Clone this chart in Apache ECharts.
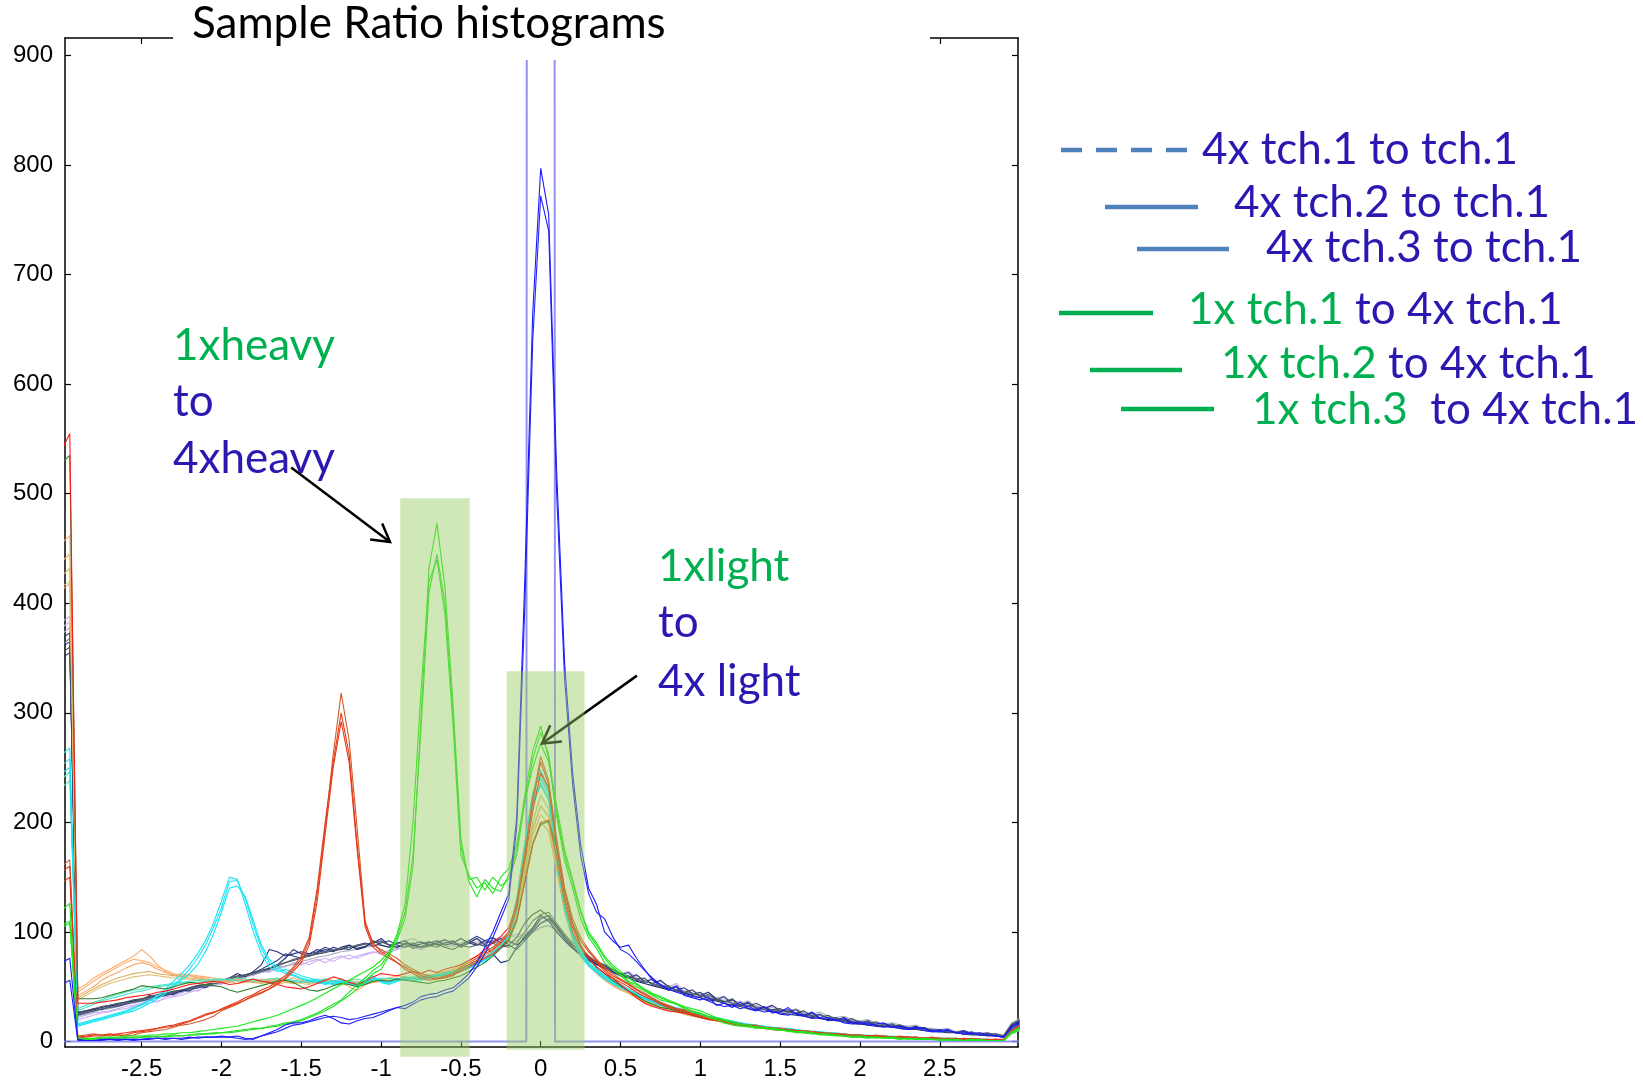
<!DOCTYPE html>
<html>
<head>
<meta charset="utf-8">
<title>Sample Ratio histograms</title>
<script src="https://cdn.jsdelivr.net/npm/echarts@6/dist/echarts.min.js"></script>
<style>
  html, body { margin: 0; padding: 0; background: #fff; }
  #chart { width: 1643px; height: 1081px; }
</style>
</head>
<body>
<div id="chart"></div>
<script>
// Bin centres of the log-ratio histograms: every 0.05 from -3 to 3
const binCenters = Array.from({ length: 121 }, (_, i) => Math.round((-3 + i * 0.05) * 100) / 100);

// Axis ticks
const xTicks = [-2.5, -2, -1.5, -1, -0.5, 0, 0.5, 1, 1.5, 2, 2.5];
const yTicks = [0, 100, 200, 300, 400, 500, 600, 700, 800, 900];

// 4x tch.1 against itself: every ratio lands in the zero bin
const selfBins = [-3, -0.09, 0, 0.09, 3];
const selfCounts = [0, 0, 30000, 0, 0];

// Counts per bin, 121 values each (rows of ten bins)
const blueA = [
  72,76,2,1,1,2,2,1,2,2,
  2,3,3,2,3,3,4,3,4,4,
  4,4,5,3,2,5,8,11,15,17,
  17,19,22,24,21,17,16,19,21,22,
  25,28,31,33,36,41,43,44,47,49,
  55,62,72,86,100,118,135,205,420,665,
  797,755,520,345,245,180,140,125,100,92,
  86,88,76,66,56,52,47,50,42,40,
  38,41,33,35,31,36,30,28,32,26,
  27,31,25,24,27,21,22,19,21,17,
  18,15,16,17,13,14,12,13,12,10,
  10,11,8,9,7,8,6,5,4,14,
  18];
const blueB = [
  52,56,1,1,1,1,2,2,2,1,
  2,2,3,3,3,2,3,4,4,4,
  5,4,3,2,3,5,7,9,12,15,
  16,18,20,22,23,22,20,21,23,25,
  27,29,31,30,34,38,40,41,44,46,
  52,58,68,80,95,112,130,195,395,640,
  772,740,500,330,235,170,135,118,112,96,
  84,80,73,65,58,52,48,45,43,41,
  40,37,34,32,33,30,32,29,27,28,
  25,24,26,23,21,22,19,20,17,16,
  16,17,14,13,14,12,11,12,10,9,
  9,10,8,7,8,6,6,5,4,12,
  16];
const green1 = [
  120,126,3,2,2,3,3,3,4,3,
  4,4,5,4,5,5,6,6,7,7,
  8,8,9,10,11,12,13,14,16,17,
  19,22,25,28,32,37,42,48,55,62,
  66,78,92,112,160,295,432,473,415,310,
  185,146,132,148,140,137,152,175,225,265,
  288,258,205,165,140,112,95,85,72,66,
  60,54,50,46,42,38,36,34,30,27,
  25,22,20,17,15,14,14,12,13,11,
  11,10,9,9,8,7,7,6,5,5,
  5,4,4,3,4,3,3,2,3,2,
  2,2,2,1,2,1,1,1,1,8,
  12];
const green2 = [
  106,110,2,2,3,2,3,3,3,4,
  4,5,4,5,6,5,6,7,7,8,
  8,9,10,11,12,12,14,15,17,18,
  20,23,26,30,34,38,45,52,58,65,
  70,80,95,118,170,285,410,445,400,300,
  178,148,150,138,150,142,148,170,218,258,
  282,262,210,170,145,118,98,88,76,68,
  62,55,52,47,43,40,37,34,31,28,
  26,23,21,19,17,15,13,14,12,11,
  10,10,8,8,7,7,6,6,5,4,
  4,4,3,4,3,3,2,3,2,2,
  2,1,2,1,1,2,1,1,1,7,
  10];
const green3 = [
  104,108,3,3,3,4,4,4,5,5,
  5,6,6,7,7,8,8,9,10,11,
  12,13,14,16,18,20,22,24,27,30,
  33,36,40,44,48,52,56,60,64,68,
  74,82,98,125,200,320,420,440,390,290,
  170,152,140,145,135,150,158,180,220,250,
  272,255,215,175,148,120,100,90,78,70,
  64,58,53,48,44,41,38,35,32,30,
  28,25,22,20,18,16,15,13,12,12,
  11,9,9,8,8,6,6,5,5,4,
  4,3,4,3,3,2,3,2,2,2,
  1,2,1,1,2,1,1,1,1,9,
  13];
const redOrange1 = [
  160,166,5,6,7,6,5,6,5,6,
  8,9,10,11,13,15,16,18,20,23,
  28,31,34,38,42,45,48,52,58,66,
  75,92,135,195,262,318,275,195,110,88,
  84,80,76,70,66,62,60,58,60,62,
  68,72,76,82,86,92,100,128,172,222,
  260,238,185,140,112,95,84,75,68,62,
  57,53,48,44,40,36,33,30,29,26,
  24,22,21,19,18,16,15,15,13,12,
  12,11,10,10,9,8,8,7,7,6,
  6,5,6,5,4,5,4,4,3,4,
  3,3,3,2,3,2,2,2,2,11,
  15];
const redOrange2 = [
  155,160,4,5,6,6,7,6,6,8,
  9,10,12,13,14,16,18,21,24,26,
  30,33,36,40,43,47,50,55,60,68,
  78,95,140,200,255,300,262,180,108,90,
  82,78,72,68,64,60,58,57,58,60,
  66,70,74,80,84,90,98,122,168,218,
  255,235,180,138,108,92,82,74,66,60,
  56,52,47,43,39,35,32,30,28,25,
  23,21,20,18,17,16,14,14,12,12,
  11,10,10,9,8,8,7,7,6,6,
  5,5,5,4,4,4,4,3,3,3,
  3,2,3,2,2,2,2,1,2,10,
  14];
const redOrange3 = [
  145,150,3,4,5,5,6,7,8,9,
  10,11,12,14,15,17,19,22,25,27,
  29,32,35,38,41,44,48,53,57,64,
  72,88,128,190,250,292,255,175,105,86,
  80,76,72,66,62,58,56,57,59,61,
  64,68,72,76,80,86,94,112,145,180,
  200,202,168,128,100,86,78,72,64,58,
  54,50,45,41,38,34,31,29,27,24,
  22,20,19,18,16,15,14,13,12,11,
  10,10,9,8,8,7,7,6,6,5,
  5,5,4,4,4,3,4,3,3,3,
  2,3,2,2,2,2,1,2,1,9,
  13];
const red1 = [
  540,555,35,35,35,36,37,38,40,41,
  42,43,45,46,48,50,52,53,54,55,
  54,52,53,55,57,55,54,52,50,49,
  48,50,53,56,59,57,54,52,55,59,
  62,61,60,62,64,62,65,63,66,68,
  70,74,78,84,90,96,104,125,165,210,
  245,232,178,132,104,88,76,68,62,58,
  52,46,40,35,32,30,28,27,26,24,
  22,21,20,18,17,15,14,14,13,12,
  11,11,10,9,9,8,7,7,6,6,
  6,5,5,5,4,4,3,4,3,3,
  3,2,2,3,2,2,1,2,1,10,
  14];
const cyan1 = [
  262,268,15,17,19,21,23,25,27,30,
  34,38,42,48,55,62,70,80,92,108,
  128,150,148,125,100,80,68,64,66,63,
  60,58,56,54,53,55,52,50,56,60,
  54,52,55,57,56,58,60,59,62,64,
  66,70,74,72,80,86,98,130,180,225,
  248,230,170,125,98,82,72,66,60,56,
  52,48,44,41,38,35,33,31,29,27,
  25,23,22,20,19,17,16,15,14,13,
  12,12,11,10,9,9,8,8,7,6,
  6,6,5,5,5,4,4,4,3,3,
  3,3,3,2,2,2,2,1,1,11,
  15];
const cyan2 = [
  252,258,16,18,20,22,24,26,28,31,
  33,37,41,46,52,58,66,76,88,104,
  122,146,147,130,106,85,72,66,62,60,
  57,55,54,52,55,57,54,52,53,57,
  56,54,57,58,55,57,59,61,60,63,
  65,68,72,76,82,88,96,125,175,220,
  240,226,168,122,96,80,70,64,58,54,
  50,47,43,40,37,34,32,30,28,26,
  24,22,21,19,18,17,15,14,14,12,
  12,11,10,10,9,8,8,7,7,6,
  6,5,5,5,4,4,4,3,3,3,
  3,2,2,2,2,2,1,1,1,10,
  14];
const cyan3 = [
  245,250,14,16,18,20,22,24,26,28,
  31,35,39,44,50,56,62,70,82,98,
  118,140,142,132,110,88,75,68,64,61,
  58,56,55,53,52,54,53,51,54,58,
  55,53,56,57,58,56,58,60,61,62,
  64,67,70,75,80,86,94,120,170,215,
  236,222,165,120,94,78,69,63,57,53,
  49,46,42,39,36,33,31,29,27,25,
  23,22,20,19,17,16,15,14,13,12,
  11,11,10,9,9,8,7,7,6,6,
  5,5,5,4,4,4,3,3,3,3,
  2,2,2,2,2,1,1,1,1,9,
  13];
const orange1 = [
  455,462,48,52,58,62,66,70,74,78,
  84,78,70,64,60,62,61,60,59,58,
  57,56,58,57,55,56,57,55,56,58,
  56,54,55,57,56,54,50,46,52,55,
  56,58,60,59,57,58,60,62,64,66,
  70,74,78,82,86,92,100,122,160,195,
  215,205,165,124,98,82,72,65,58,54,
  50,46,42,38,35,33,31,29,27,25,
  23,21,20,18,17,16,15,14,13,12,
  11,10,10,9,8,8,7,7,6,6,
  5,5,5,4,4,4,3,3,3,3,
  3,2,2,2,2,2,1,1,1,9,
  12];
const orange2 = [
  438,445,45,50,55,60,64,68,72,75,
  74,72,68,65,62,60,61,59,58,56,
  55,57,56,54,55,57,55,54,56,55,
  54,56,54,55,53,55,56,54,53,56,
  55,57,58,56,58,60,61,60,63,65,
  68,72,76,80,84,90,98,118,155,188,
  207,198,160,120,95,80,70,63,57,52,
  48,45,41,37,34,32,30,28,26,24,
  22,21,19,18,16,15,14,13,12,11,
  11,10,9,9,8,7,7,6,6,5,
  5,5,4,4,4,3,3,3,3,2,
  2,2,2,2,2,1,1,1,1,8,
  11];
const orange3 = [
  412,418,42,46,50,56,60,63,67,70,
  72,70,66,63,61,59,60,58,57,56,
  56,55,57,56,54,55,56,57,55,54,
  55,53,55,56,55,53,54,55,52,54,
  55,56,57,58,57,59,60,61,62,64,
  67,70,74,78,83,88,96,114,150,182,
  200,192,156,118,93,78,69,62,56,51,
  47,44,40,36,33,31,29,27,25,23,
  22,20,19,17,16,15,14,13,12,11,
  10,10,9,8,8,7,7,6,6,5,
  5,4,4,4,3,3,3,3,2,2,
  2,2,2,1,1,1,1,1,1,8,
  11];
const tan1 = [
  425,432,40,44,48,52,55,58,60,62,
  63,64,62,61,60,59,58,57,56,55,
  55,54,56,55,54,53,55,56,54,53,
  54,55,53,54,56,55,53,52,54,55,
  56,55,57,56,58,57,59,60,62,63,
  66,69,73,77,82,88,96,120,160,200,
  225,212,168,126,98,82,72,64,58,53,
  49,45,41,38,35,32,30,28,26,24,
  22,21,19,18,17,15,14,13,12,12,
  11,10,9,9,8,7,7,6,6,5,
  5,5,4,4,4,3,3,3,3,2,
  2,2,2,2,1,1,1,1,1,8,
  11];
const tan2 = [
  415,420,38,42,46,50,53,55,57,59,
  60,61,60,59,58,57,57,56,55,54,
  54,55,53,54,55,54,53,52,54,55,
  53,52,54,55,53,52,54,55,53,54,
  55,56,55,57,58,59,58,60,61,62,
  65,68,72,76,81,86,94,116,155,192,
  215,205,164,124,96,80,70,63,57,52,
  48,44,40,37,34,31,29,27,25,23,
  22,20,19,17,16,15,14,13,12,11,
  10,10,9,8,8,7,6,6,5,5,
  5,4,4,4,3,3,3,3,2,2,
  2,2,1,1,1,1,1,1,1,8,
  11];
const aqua1 = [
  240,246,30,33,36,38,41,43,45,47,
  48,50,51,52,53,54,55,56,56,57,
  57,56,58,57,55,56,57,58,56,55,
  54,56,57,55,54,56,55,53,55,57,
  58,57,56,58,59,58,60,61,62,64,
  66,69,72,75,80,88,98,130,182,228,
  244,228,172,126,99,83,73,66,60,55,
  51,47,43,40,37,34,32,30,28,26,
  24,22,21,19,18,16,15,14,13,13,
  12,11,10,10,9,8,8,7,6,6,
  6,5,5,4,4,4,3,3,3,3,
  2,2,2,2,2,1,1,1,1,9,
  13];
const aqua2 = [
  232,238,28,31,34,37,39,41,43,45,
  46,48,50,51,52,53,54,54,55,56,
  56,57,55,56,57,55,54,56,57,56,
  55,54,56,57,55,54,56,57,55,56,
  57,58,57,59,58,60,59,61,63,64,
  66,68,71,74,79,86,95,124,175,218,
  234,220,168,124,97,81,72,65,59,54,
  50,46,43,39,36,34,32,30,28,26,
  24,22,21,19,18,17,15,14,13,12,
  12,11,10,9,9,8,7,7,6,6,
  5,5,5,4,4,4,3,3,3,2,
  2,2,2,2,1,1,1,1,1,8,
  12];
const darkGreen1 = [
  528,535,39,39,39,40,42,44,46,48,
  51,50,49,48,50,52,54,53,52,51,
  50,47,45,47,49,51,53,55,56,54,
  50,47,46,48,51,53,52,50,52,55,
  56,55,57,56,55,54,53,55,56,58,
  60,64,68,72,78,85,92,110,145,180,
  198,201,178,138,108,88,76,68,62,56,
  51,46,42,37,34,31,30,28,26,24,
  22,21,20,18,17,16,15,14,13,12,
  12,11,10,9,9,8,7,7,6,6,
  5,5,5,4,4,4,3,3,3,3,
  2,2,2,2,2,1,1,1,1,9,
  13];
const navy1 = [
  368,373,26,28,30,29,32,34,36,37,
  38,42,40,44,43,47,46,51,49,54,
  55,58,62,59,64,70,84,82,78,80,
  82,80,84,82,86,84,88,85,87,90,
  94,88,86,90,88,86,90,92,88,90,
  94,90,88,92,95,90,92,88,94,102,
  112,115,106,96,88,82,76,72,70,66,
  62,58,61,55,53,56,50,47,49,44,
  42,45,39,36,38,33,35,31,30,33,
  28,27,29,24,23,25,21,20,22,18,
  17,19,15,14,16,13,12,14,11,10,
  11,9,8,10,7,7,8,6,5,15,
  19];
const navy2 = [
  360,365,24,26,28,30,31,32,34,36,
  37,39,41,42,44,46,49,51,52,53,
  56,57,59,61,63,66,70,74,80,78,
  76,80,82,86,83,85,84,88,90,87,
  90,92,88,86,89,91,88,90,93,89,
  88,92,96,92,90,94,88,84,92,100,
  108,112,104,94,86,80,75,71,68,64,
  61,63,56,54,57,50,48,51,44,43,
  45,39,38,41,34,33,36,30,31,28,
  27,29,25,24,26,21,20,22,19,17,
  16,18,15,14,13,15,12,11,12,10,
  9,10,8,7,9,6,6,7,5,14,
  18];
const navy3 = [
  350,355,25,27,29,31,33,33,35,37,
  39,40,41,43,45,46,48,49,51,53,
  54,56,58,60,62,64,66,70,76,84,
  80,78,81,84,82,86,88,84,86,92,
  88,86,90,92,87,89,91,88,90,92,
  86,90,94,88,80,72,74,86,96,104,
  115,110,100,92,85,79,74,70,67,63,
  60,58,55,53,51,49,47,46,44,42,
  40,38,37,35,33,32,30,29,29,27,
  26,25,24,23,22,21,20,19,18,17,
  16,15,14,14,13,12,11,11,10,9,
  9,8,8,7,6,6,5,5,4,13,
  17];
const lavender1 = [
  383,388,22,24,26,27,28,30,32,33,
  35,38,36,41,42,44,48,46,50,53,
  52,57,56,61,60,65,63,69,68,72,
  70,73,75,72,76,78,75,78,80,82,
  80,83,85,88,86,84,87,90,86,88,
  90,92,88,90,93,95,97,95,98,102,
  108,110,102,94,86,80,75,72,68,65,
  62,64,58,55,57,52,50,53,46,44,
  43,45,38,39,35,37,32,33,30,31,
  28,29,26,27,24,22,24,20,21,18,
  17,18,15,16,14,13,14,12,11,10,
  10,11,8,9,7,8,6,6,5,16,
  20];
const lavender2 = [
  378,383,20,22,24,26,27,29,30,32,
  34,35,37,39,41,42,45,47,49,51,
  53,55,57,59,61,63,64,66,69,70,
  72,70,74,76,73,77,79,76,79,81,
  83,81,84,86,88,85,88,89,91,87,
  89,91,94,90,92,94,96,98,97,100,
  104,106,100,92,85,79,74,71,67,64,
  61,59,57,55,53,51,49,47,45,43,
  41,40,38,36,35,33,32,31,30,28,
  27,26,25,24,23,22,21,20,19,18,
  17,16,15,14,14,13,12,11,11,10,
  9,9,8,8,7,6,6,5,5,15,
  19];
const slate1 = [
  362,368,25,27,28,30,31,33,35,36,
  38,40,41,43,45,47,48,50,51,53,
  55,57,59,60,62,64,67,70,72,75,
  77,79,80,82,84,85,86,88,89,90,
  92,88,90,89,85,87,88,86,90,91,
  88,86,88,90,92,88,86,90,100,110,
  116,118,108,98,90,84,78,73,70,66,
  62,60,57,55,53,51,49,47,45,44,
  42,40,39,37,35,34,33,31,30,29,
  28,27,26,25,24,24,22,21,20,19,
  18,17,16,16,15,14,13,12,11,11,
  10,9,9,8,8,7,7,6,5,16,
  20];
const gray1 = [
  372,378,23,25,27,29,30,32,34,35,
  37,38,40,42,43,45,47,49,50,52,
  54,55,57,59,61,63,65,67,69,71,
  73,75,77,78,80,82,83,84,86,87,
  88,86,89,92,94,90,88,91,93,90,
  88,90,91,89,92,94,90,92,96,100,
  104,106,102,95,88,82,77,72,69,65,
  62,59,60,56,53,55,50,49,46,47,
  43,42,40,41,36,35,37,32,31,33,
  29,28,30,26,25,27,23,22,23,20,
  19,20,17,16,17,15,14,15,12,12,
  11,12,9,10,8,8,7,7,6,17,
  21];
const darkSlate1 = [
  355,360,27,28,30,32,33,35,36,38,
  39,41,43,44,46,47,49,51,52,54,
  56,58,60,61,63,65,67,69,72,74,
  76,78,80,81,83,84,86,87,89,90,
  91,88,86,89,90,86,87,89,86,84,
  88,92,89,87,90,86,88,95,108,116,
  120,114,104,96,88,82,77,73,69,65,
  62,59,57,58,52,50,51,46,45,47,
  41,43,38,36,39,33,32,35,31,29,
  30,27,26,28,23,22,24,20,19,21,
  17,16,18,15,14,15,12,11,13,10,
  9,10,8,7,8,6,7,5,5,15,
  19];

// Shaded ratio windows (x from/to, top, bottom in axis units)
const bandFrom = [-0.88, -0.213];
const bandTo = [-0.445, 0.275];
const bandTop = [496, 338];
const bandBottom = [-14, -7.5];

// Annotation arrows: tail x, tail y, head x, head y
const arrowTailX = [-1.563, 0.603];
const arrowTailY = [524, 334];
const arrowHeadX = [-0.944, 0.008];
const arrowHeadY = [456, 272];

const TEXT_BLUE = '#2a18b0';
const TEXT_GREEN = '#00b050';
const KEY_BLUE = '#4f81bd';
const UI_FONT = 'Lato, "Open Sans", "Noto Sans", sans-serif';

const histograms = [
  { counts: lavender1, color: '#c8aaf4' },
  { counts: lavender2, color: '#cdb2f6' },
  { counts: gray1, color: '#a9b1ba' },
  { counts: navy1, color: '#26337c' },
  { counts: navy2, color: '#2f3f8a' },
  { counts: navy3, color: '#1e2b6e' },
  { counts: slate1, color: '#5e6c7b' },
  { counts: darkSlate1, color: '#43505c' },
  { counts: orange1, color: '#ffab68' },
  { counts: orange2, color: '#ffb070' },
  { counts: orange3, color: '#f9a562' },
  { counts: tan1, color: '#d8b364' },
  { counts: tan2, color: '#e0bd72' },
  { counts: aqua1, color: '#46e6c2' },
  { counts: aqua2, color: '#52dcc8' },
  { counts: cyan1, color: '#17e5f2' },
  { counts: cyan2, color: '#22def0' },
  { counts: cyan3, color: '#0ce8f5' },
  { counts: darkGreen1, color: '#2a7f2a' },
  { counts: red1, color: '#ff1a1a' },
  { counts: redOrange1, color: '#cf5a2a' },
  { counts: redOrange2, color: '#e23c14' },
  { counts: redOrange3, color: '#e8361a' },
  { counts: green1, color: '#1fe41f' },
  { counts: green2, color: '#27dc27' },
  { counts: green3, color: '#18ea18' },
  { counts: blueB, color: '#2323f5' },
  { counts: blueA, color: '#1a1aff' }
];

const chart = echarts.init(document.getElementById('chart'), null, { renderer: 'canvas' });

const axisLabelFont = { fontFamily: '"Liberation Sans", Arial, sans-serif', fontSize: 24, color: '#000' };
const frameLine = { onZero: false, lineStyle: { color: '#000', width: 1.5 } };
const innerTick = values => ({ inside: true, length: 6, customValues: values, lineStyle: { color: '#000', width: 1.2 } });

const series = [];

// self-ratio histogram (single spike)
series.push({
  type: 'line',
  data: selfBins.map((x, i) => [x, selfCounts[i]]),
  showSymbol: false,
  silent: true,
  lineStyle: { color: '#8080f2', width: 2, opacity: 0.85 },
  z: 2
});

histograms.forEach(h => {
  series.push({
    type: 'line',
    data: binCenters.map((x, i) => [x, h.counts[i]]),
    showSymbol: false,
    silent: true,
    lineStyle: { color: h.color, width: 1.1 },
    z: 3
  });
});

// arrows (under the shaded windows)
series.push({
  type: 'custom',
  silent: true,
  z: 4,
  data: arrowTailX.map((x, i) => [x, arrowTailY[i], arrowHeadX[i], arrowHeadY[i]]),
  encode: { x: [0, 2], y: [1, 3] },
  renderItem: (params, api) => {
    const a = api.coord([api.value(0), api.value(1)]);
    const b = api.coord([api.value(2), api.value(3)]);
    const ang = Math.atan2(b[1] - a[1], b[0] - a[0]);
    const L = 20, spread = Math.PI / 6;
    const h1 = [b[0] - L * Math.cos(ang - spread), b[1] - L * Math.sin(ang - spread)];
    const h2 = [b[0] - L * Math.cos(ang + spread), b[1] - L * Math.sin(ang + spread)];
    return {
      type: 'group',
      children: [
        { type: 'line', shape: { x1: a[0], y1: a[1], x2: b[0], y2: b[1] }, style: { stroke: '#000', lineWidth: 2.5 } },
        { type: 'polyline', shape: { points: [h1, b, h2] }, style: { stroke: '#000', lineWidth: 2.5, fill: null } }
      ]
    };
  }
});

// shaded ratio windows
series.push({
  type: 'custom',
  silent: true,
  clip: false,
  z: 5,
  data: bandFrom.map((x, i) => [x, bandTo[i], bandTop[i], bandBottom[i]]),
  encode: { x: [0, 1], y: [2, 3] },
  renderItem: (params, api) => {
    const p0 = api.coord([api.value(0), api.value(2)]);
    const p1 = api.coord([api.value(1), api.value(3)]);
    return {
      type: 'rect',
      shape: { x: p0[0], y: p0[1], width: p1[0] - p0[0], height: p1[1] - p0[1] },
      style: { fill: 'rgba(150,205,95,0.45)' }
    };
  }
});

function legendText(x, y, parts) {
  const rich = {};
  let text = '';
  parts.forEach((p, i) => {
    rich['s' + i] = { fill: p[1], font: '44px ' + UI_FONT };
    text += '{s' + i + '|' + p[0] + '}';
  });
  return { type: 'text', x, y, z: 50, style: { text, rich, verticalAlign: 'middle', align: 'left' } };
}
function keyLine(x1, x2, y, color, dash) {
  return {
    type: 'line', z: 50,
    shape: { x1, y1: y, x2, y2: y },
    style: { stroke: color, lineWidth: 4.5, lineDash: dash || null }
  };
}
function note(x, y, text, color) {
  return { type: 'text', x, y, z: 50, style: { text, fill: color, font: '44px ' + UI_FONT, verticalAlign: 'middle', align: 'left' } };
}

const option = {
  animation: false,
  backgroundColor: '#fff',
  grid: { left: 65, right: 625, top: 38, bottom: 33, containLabel: false },
  xAxis: [
    {
      type: 'value', min: -2.98, max: 2.99, position: 'bottom',
      axisLine: frameLine,
      axisTick: innerTick(xTicks),
      axisLabel: Object.assign({ customValues: xTicks, margin: 10 }, axisLabelFont),
      splitLine: { show: false }
    },
    {
      type: 'value', min: -2.98, max: 2.99, position: 'top',
      axisLine: frameLine,
      axisTick: innerTick(xTicks),
      axisLabel: { show: false },
      splitLine: { show: false }
    }
  ],
  yAxis: [
    {
      type: 'value', min: -5, max: 916, position: 'left',
      axisLine: frameLine,
      axisTick: innerTick(yTicks),
      axisLabel: Object.assign({ customValues: yTicks, margin: 12 }, axisLabelFont),
      splitLine: { show: false }
    },
    {
      type: 'value', min: -5, max: 916, position: 'right',
      axisLine: frameLine,
      axisTick: innerTick(yTicks),
      axisLabel: { show: false },
      splitLine: { show: false }
    }
  ],
  series,
  graphic: [
    // title plate over the top frame
    { type: 'rect', z: 40, shape: { x: 173, y: 0, width: 757, height: 60 }, style: { fill: '#fff' } },
    { type: 'text', z: 41, x: 192, y: 24, style: { text: 'Sample Ratio histograms', fill: '#000', font: '44px ' + UI_FONT, verticalAlign: 'middle', align: 'left' } },

    // key
    keyLine(1061, 1187, 150, KEY_BLUE, [21, 14]),
    legendText(1202, 150, [['4x tch.1 to tch.1', TEXT_BLUE]]),
    keyLine(1105, 1198, 207, KEY_BLUE),
    legendText(1234, 203, [['4x tch.2 to tch.1', TEXT_BLUE]]),
    keyLine(1137, 1229, 249, KEY_BLUE),
    legendText(1266, 248, [['4x tch.3 to tch.1', TEXT_BLUE]]),
    keyLine(1059, 1153, 313, TEXT_GREEN),
    legendText(1188, 310, [['1x tch.1', TEXT_GREEN], [' to 4x tch.1', TEXT_BLUE]]),
    keyLine(1090, 1182, 370, TEXT_GREEN),
    legendText(1221, 364, [['1x tch.2', TEXT_GREEN], [' to 4x tch.1', TEXT_BLUE]]),
    keyLine(1121, 1214, 409, TEXT_GREEN),
    legendText(1252, 410, [['1x tch.3', TEXT_GREEN], ['  to 4x tch.1', TEXT_BLUE]]),

    // peak notes
    note(173, 346, '1xheavy', TEXT_GREEN),
    note(173, 402, 'to', TEXT_BLUE),
    note(173, 459, '4xheavy', TEXT_BLUE),
    note(658, 567, '1xlight', TEXT_GREEN),
    note(658, 623, 'to', TEXT_BLUE),
    note(658, 682, '4x light', TEXT_BLUE)
  ]
};

chart.setOption(option);
</script>
</body>
</html>
